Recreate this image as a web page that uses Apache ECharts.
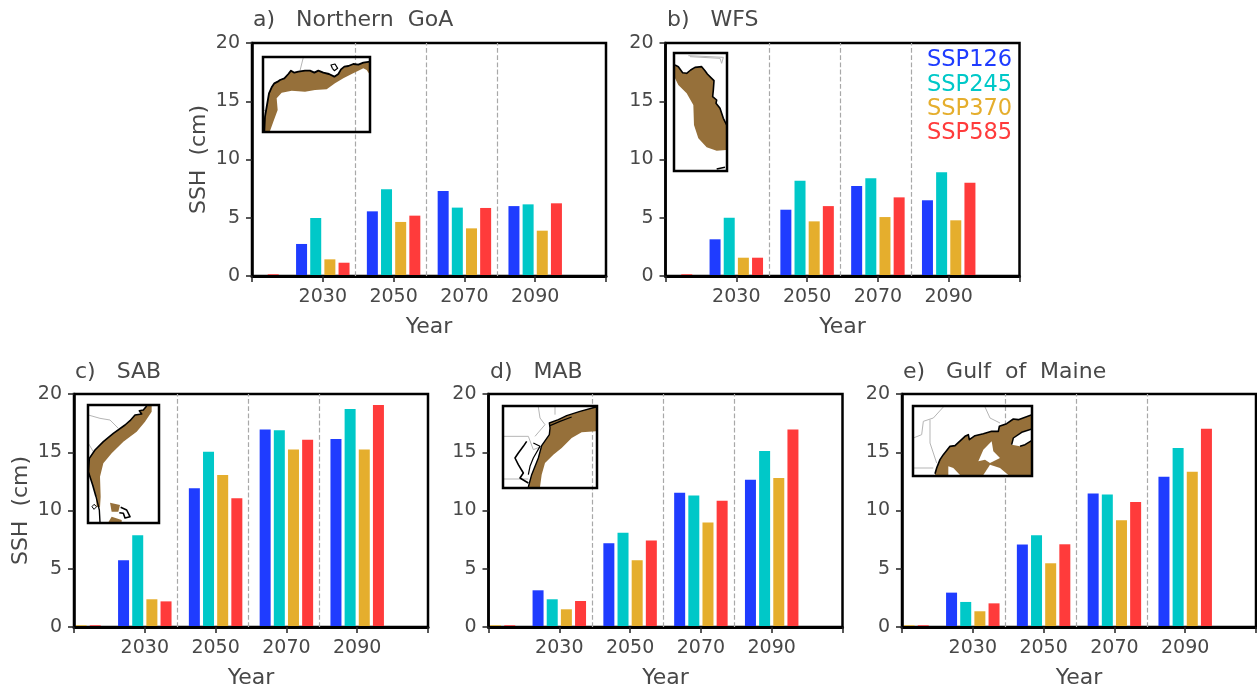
<!DOCTYPE html>
<html><head><meta charset="utf-8">
<style>html,body{margin:0;padding:0;background:#fff}#c{width:1257px;height:687px}</style>
<script src="https://cdn.jsdelivr.net/npm/echarts@6/dist/echarts.min.js"></script>
</head><body><div id="c"></div>
<script>
// ---------- data ----------
const scenarios = ['SSP126','SSP245','SSP370','SSP585'];
const colors = ['#1f3cff','#00c8c8','#e5ae2d','#ff3b3b'];
const panelTitles = ['a)   Northern  GoA','b)   WFS','c)   SAB','d)   MAB','e)   Gulf  of  Maine'];
const yTicks = [0,5,10,15,20];
const xTickYears = [2010,2030,2050,2070,2090,2110];
const xLabelYears = [2030,2050,2070,2090];
const dividers = [2039.3,2059.3,2079.3];
// bar centres (years) of each scenario within its decade group
const x126 = [2024,2044,2064,2084];
const x245 = [2028,2048,2068,2088];
const x370 = [2012,2032,2052,2072,2092];
const x585 = [2016,2036,2056,2076,2096];

const goa126 = [2.75,5.55,7.30,6.00];
const goa245 = [4.98,7.44,5.87,6.15];
const goa370 = [0,1.43,4.64,4.09,3.89];
const goa585 = [0.15,1.14,5.18,5.84,6.24];

const wfs126 = [3.15,5.69,7.73,6.50];
const wfs245 = [5.00,8.18,8.38,8.90];
const wfs370 = [0,1.57,4.69,5.06,4.78];
const wfs585 = [0.15,1.57,6.00,6.75,8.01];

const sab126 = [5.73,11.92,16.96,16.13];
const sab245 = [7.88,15.04,16.88,18.71];
const sab370 = [0.15,2.38,13.04,15.24,15.24];
const sab585 = [0.15,2.20,11.06,16.07,19.05];

const mab126 = [3.15,7.19,11.52,12.64];
const mab245 = [2.38,8.08,11.29,15.10];
const mab370 = [0.15,1.52,5.73,8.97,12.78];
const mab585 = [0.15,2.23,7.42,10.83,16.96];

const gom126 = [2.95,7.08,11.46,12.89];
const gom245 = [2.15,7.88,11.38,15.36];
const gom370 = [0.15,1.35,5.47,9.17,13.32];
const gom585 = [0.15,2.03,7.10,10.74,17.02];

const panelValues = [
  [goa126,goa245,goa370,goa585],
  [wfs126,wfs245,wfs370,wfs585],
  [sab126,sab245,sab370,sab585],
  [mab126,mab245,mab370,mab585],
  [gom126,gom245,gom370,gom585]
];
const scenarioX = [x126,x245,x370,x585];

// ---------- inset map outlines, in each inset's own map units ----------
const goaCoast = [[28,243],[30,200],[36,165],[42,130],[50,112],[58,100],[68,95],[75,90],[88,85],[100,72],[108,62],[118,68],[130,65],[150,62],[165,62],[178,68],[190,62],[205,68],[222,72],[238,80],[250,72],[258,58],[268,50],[280,48],[295,42],[310,44],[325,38],[345,35]];
const goaOffshore = [[345,75],[335,60],[325,55],[310,62],[290,72],[265,85],[240,100],[215,118],[180,120],[150,125],[110,122],[80,128],[65,145],[68,180],[55,215],[45,243]];
const goaBay = [[232,55],[228,45],[240,42],[248,55],[238,62],[232,55]];
const goaBorderA = [[145,22],[135,62]];
const goaBorderB = [[26,180],[45,190]];

const wfsCoast = [[15,45],[25,50],[38,68],[50,70],[62,60],[75,52],[95,50],[105,62],[112,72],[125,85],[132,92],[130,120],[128,140],[140,150],[138,160],[150,175],[155,190],[160,205],[170,225]];
const wfsOffshore = [[168,300],[140,302],[110,292],[85,265],[72,225],[70,165],[50,130],[25,105],[15,85]];
const wfsBorderA = [[55,17],[160,22],[155,40],[150,25],[60,20]];
const wfsIsland = [[140,357],[165,352]];

const sabCoastUpper = [[200,18],[190,30],[178,32],[185,42],[165,45],[150,62],[135,75],[100,100],[70,125],[45,150],[28,175],[25,215],[38,255],[48,290]];
const sabCoastLower = [[48,290],[58,330],[60,367]];
const sabOffshore = [[50,320],[60,322],[62,290],[60,230],[70,190],[95,160],[130,125],[170,95],[195,65],[215,35],[215,18]];
const sabBank = [[90,308],[120,315],[115,335],[95,335]];
const sabBankS = [[85,367],[95,350],[125,360],[125,367]];
const sabCuba = [[122,322],[140,330],[150,350],[135,354],[130,340],[118,338]];
const sabBorderA = [[25,45],[60,55],[90,60],[115,85]];
const sabBorderB = [[25,130],[40,155]];
const sabLake = [[36,320],[42,313],[50,320],[42,328],[36,320]];

const mabCoast = [[85,252],[95,215],[115,165],[125,128],[148,95],[150,75],[148,60],[175,50],[200,38],[240,25],[288,12]];
const mabOffshore = [[288,85],[245,88],[215,105],[185,135],[160,155],[135,180],[125,215],[120,252]];
const mabIsland = [[150,68],[180,55],[215,42]];
const mabBay = [[80,115],[70,130],[55,150],[45,165],[55,185],[70,210],[60,225],[85,240]];
const mabBayB = [[100,120],[120,130],[100,165],[90,190],[85,215]];
const mabBorderA = [[9,100],[85,100],[100,140],[125,130]];
const mabBorderB = [[115,12],[120,45],[135,65],[105,100]];
const mabBorderC = [[165,10],[165,35]];
const mabBorderD = [[9,228],[85,228]];

const gomCoast = [[75,212],[80,195],[90,170],[100,155],[120,130],[135,128],[165,100],[175,95],[178,110],[195,98],[220,92],[245,85],[265,85],[268,70],[290,62],[310,48],[325,50],[366,35]];
const gomOffshore = [[366,216],[75,216]];
const gomHoleA = [[205,175],[220,140],[245,115],[250,145],[270,165],[240,180],[225,170]];
const gomHoleB = [[220,216],[240,185],[270,195],[295,216]];
const gomHoleC = [[115,190],[130,195],[150,216],[115,216]];
const gomNovaScotia = [[305,125],[310,105],[335,88],[366,78],[366,112],[345,125],[330,130]];
const gomBorderA = [[100,12],[70,45],[40,55],[35,95],[10,105]];
const gomBorderB = [[60,50],[60,120],[80,180]];
const gomBorderC = [[225,12],[240,45],[270,60]];
const gomBorderD = [[10,195],[70,195]];

const BROWN='#96703a', WHITE='#ffffff', BLACK='#000000', GREY='#b5b5b5';
const insets = [
 {box:[263,57,107,75], range:[24,345,21,246], shapes:[[goaBorderA,'l',GREY,1],[goaBorderB,'l',GREY,1],[goaCoast.concat(goaOffshore),'p',BROWN],[goaCoast,'l',BLACK,1.8],[goaBay,'l',BLACK,1.2]]},
 {box:[674,53,53,118], range:[12,171,9,363], shapes:[[wfsBorderA,'l',GREY,1],[wfsCoast.concat(wfsOffshore),'p',BROWN],[wfsCoast,'l',BLACK,1.6],[wfsIsland,'l',BLACK,1.5]]},
 {box:[88,405,71,118], range:[24,237,15,369], shapes:[[sabBorderA,'l',GREY,1],[sabBorderB,'l',GREY,1],[sabCoastUpper.concat(sabOffshore),'p',BROWN],[sabBank,'p',BROWN],[sabBankS,'p',BROWN],[sabCoastUpper,'l',BLACK,1.6],[sabCoastLower,'l',BLACK,1.4],[sabCuba,'l',BLACK,1.6],[sabLake,'l',BLACK,1]]},
 {box:[503,406,94,82], range:[9,291,9,255], shapes:[[mabBorderA,'l',GREY,1],[mabBorderB,'l',GREY,1],[mabBorderC,'l',GREY,1],[mabBorderD,'l',GREY,1],[mabCoast.concat(mabOffshore),'p',BROWN],[mabCoast,'l',BLACK,1.4],[mabIsland,'l',BLACK,1.2],[mabBay,'l',BLACK,1.6],[mabBayB,'l',BLACK,1.2]]},
 {box:[913,406,119,70], range:[9,366,9,219], shapes:[[gomBorderA,'l',GREY,1],[gomBorderB,'l',GREY,1],[gomBorderC,'l',GREY,1],[gomBorderD,'l',GREY,1],[gomCoast.concat(gomOffshore),'p',BROWN],[gomHoleA,'p',WHITE],[gomHoleB,'p',WHITE],[gomHoleC,'p',WHITE],[gomNovaScotia,'p',WHITE],[gomCoast,'l',BLACK,1.6],[gomNovaScotia,'l',BLACK,1.5]]}
];

// ---------- layout ----------
const plots = [
 {left:252,top:43,yName:true,tx:253,ty:9},
 {left:665.5,top:43,yName:false,tx:667,ty:9},
 {left:74,top:394,yName:true,tx:75,ty:361},
 {left:488.5,top:394,yName:false,tx:490,ty:361},
 {left:902,top:394,yName:false,tx:903,ty:361}
];
const W=354,H=233;
const FONT='DejaVu Sans', TXT='#484848';

const grid=[],xAxis=[],yAxis=[],series=[],title=[];
plots.forEach((p,i)=>{
  grid.push({left:p.left,top:p.top,width:W,height:H,show:true,outerBoundsMode:'none',borderColor:'#000',borderWidth:2.5,backgroundColor:'transparent',z:1});
  xAxis.push({type:'value',gridIndex:i,min:2010,max:2110,name:'Year',nameLocation:'middle',nameGap:40,
    nameTextStyle:{fontFamily:FONT,fontSize:22,color:TXT},
    axisLine:{show:true,onZero:false,lineStyle:{color:'#000',width:3}},
    axisTick:{show:true,length:6,customValues:xTickYears,lineStyle:{color:'#222',width:1.5}},
    axisLabel:{show:true,customValues:xLabelYears,margin:12,fontFamily:FONT,fontSize:19,color:TXT,formatter:v=>String(v)},
    splitLine:{show:false},z:3});
  yAxis.push({type:'value',gridIndex:i,min:0,max:20,interval:5,
    name:p.yName?'SSH  (cm)':'',nameLocation:'middle',nameGap:42,
    nameTextStyle:{fontFamily:FONT,fontSize:22,color:TXT},
    axisLine:{show:true,lineStyle:{color:'#000',width:2.5}},
    axisTick:{show:true,length:6,lineStyle:{color:'#222',width:1.5}},
    axisLabel:{show:true,margin:12,padding:[3,0,0,0],fontFamily:FONT,fontSize:19,color:TXT,customValues:yTicks},
    splitLine:{show:false},z:3});
  title.push({text:panelTitles[i],left:p.tx,top:p.ty,padding:0,textStyle:{fontFamily:FONT,fontWeight:'normal',fontSize:22,color:TXT}});
  scenarios.forEach((s,k)=>{
    const ser={type:'bar',name:s,xAxisIndex:i,yAxisIndex:i,barWidth:11,barGap:'-100%',z:2,
      itemStyle:{color:colors[k]},silent:true,
      data:scenarioX[k].map((x,j)=>[x,panelValues[i][k][j]])};
    if(k===0){ser.markLine={silent:true,symbol:'none',z:4,label:{show:false},
      lineStyle:{color:'#a8a8a8',type:'dashed',width:1.2},data:dividers.map(d=>({xAxis:d}))};}
    series.push(ser);
  });
});

function drawShape(pts,kind,color,width){
  return function(params,api){
    const points=pts.map(q=>api.coord(q));
    return kind==='p'
      ? {type:'polygon',shape:{points},style:{fill:color,stroke:null}}
      : {type:'polyline',shape:{points},style:{fill:null,stroke:color,lineWidth:width,lineJoin:'round'}};
  };
}
insets.forEach((ins,n)=>{
  const gi=plots.length+n;
  grid.push({left:ins.box[0],top:ins.box[1],width:ins.box[2],height:ins.box[3],show:true,outerBoundsMode:'none',borderColor:'#000',borderWidth:2.5,backgroundColor:'transparent',z:6});
  xAxis.push({type:'value',gridIndex:gi,show:false,min:ins.range[0],max:ins.range[1],splitLine:{show:false}});
  yAxis.push({type:'value',gridIndex:gi,show:false,inverse:true,min:ins.range[2],max:ins.range[3],splitLine:{show:false}});
  ins.shapes.forEach(sh=>{
    series.push({type:'custom',xAxisIndex:gi,yAxisIndex:gi,z:5,silent:true,clip:true,
      data:[[sh[0][0][0],sh[0][0][1]]],encode:{x:0,y:1},
      renderItem:drawShape(sh[0],sh[1],sh[2],sh[3])});
  });
});

const chart=echarts.init(document.getElementById('c'),null,{renderer:'canvas'});
chart.setOption({
  animation:false,backgroundColor:'#fff',title,grid,xAxis,yAxis,series,
  tooltip:{show:false},
  legend:{show:true,orient:'vertical',left:921,top:49,padding:0,itemGap:1.3,itemWidth:1,itemHeight:22,icon:'none',selectedMode:false,
    data:scenarios.map((s,k)=>({name:s,icon:'none',textStyle:{color:colors[k],fontFamily:FONT,fontSize:22.5}}))}
});
</script></body></html>
